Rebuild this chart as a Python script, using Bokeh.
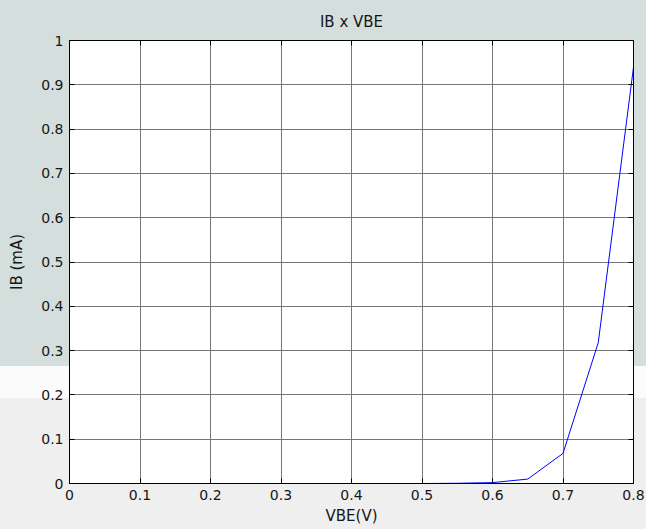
from bokeh.plotting import figure
from bokeh.models import FixedTicker, LinearAxis, Range1d, Title
from bokeh.embed import file_html
from bokeh.resources import INLINE

# data
vbe = [0.0, 0.05, 0.1, 0.15, 0.2, 0.25, 0.3, 0.35, 0.4, 0.45, 0.5, 0.55, 0.6, 0.65, 0.7, 0.75, 0.8]
ib = [0.0, 0.0, 0.0, 0.0, 0.0, 0.0, 0.0, 0.0, 0.0, 0.0, 0.0, 0.0005, 0.002, 0.01, 0.068, 0.318, 0.94]
x_ticks = [0, 0.1, 0.2, 0.3, 0.4, 0.5, 0.6, 0.7, 0.8]
x_labels = ["0", "0.1", "0.2", "0.3", "0.4", "0.5", "0.6", "0.7", "0.8"]
y_ticks = [0, 0.1, 0.2, 0.3, 0.4, 0.5, 0.6, 0.7, 0.8, 0.9, 1.0]
y_labels = ["0", "0.1", "0.2", "0.3", "0.4", "0.5", "0.6", "0.7", "0.8", "0.9", "1"]

FONT = "DejaVu Sans"
TXT = "#161616"

p = figure(width=646, height=529, output_backend="svg", toolbar_location=None,
           x_range=Range1d(0, 0.8), y_range=Range1d(0, 1),
           min_border_left=69, min_border_right=13, min_border_top=38, min_border_bottom=46)
p.border_fill_color = None
p.styles = {"background": "linear-gradient(to bottom, #d4dfdd 0px, #d4dfdd 366px, #fbfbfb 366px, #fbfbfb 398px, #efefef 398px, #efefef 100%)"}
p.background_fill_color = "white"
p.outline_line_color = "black"
p.outline_line_width = 1

p.title = Title(text="IB x VBE", align="center", text_font=FONT, text_font_size="15px",
                text_font_style="normal", text_color=TXT, offset=0, standoff=20)

p.line(vbe, ib, line_color="#0000ff", line_width=1)

def style_axis(ax, ticks, labels, show_labels=True):
    ax.ticker = FixedTicker(ticks=ticks)
    ax.major_label_overrides = {t: l for t, l in zip(ticks, labels)}
    ax.major_tick_in = 5
    ax.major_tick_out = 0
    ax.minor_tick_in = 0
    ax.minor_tick_out = 0
    ax.axis_line_color = "black"
    ax.major_tick_line_color = "black"
    ax.major_label_text_font = FONT
    ax.major_label_text_font_size = "14px"
    ax.major_label_text_color = TXT
    ax.axis_label_text_font = FONT
    ax.axis_label_text_font_size = "15px"
    ax.axis_label_text_font_style = "normal"
    ax.axis_label_text_color = TXT
    if not show_labels:
        ax.major_label_text_alpha = 0
        ax.major_label_text_font_size = "0px"

style_axis(p.xaxis[0], x_ticks, x_labels)
style_axis(p.yaxis[0], y_ticks, y_labels)
p.xaxis[0].axis_label = "VBE(V)"
p.xaxis[0].major_label_standoff = 6
p.xaxis[0].axis_label_standoff = 4
p.yaxis[0].axis_label = "IB (mA)"
p.yaxis[0].major_label_standoff = 6
p.yaxis[0].axis_label_standoff = 12

top_ax = LinearAxis()
right_ax = LinearAxis()
style_axis(top_ax, x_ticks, x_labels, show_labels=False)
style_axis(right_ax, y_ticks, y_labels, show_labels=False)
p.add_layout(top_ax, "above")
p.add_layout(right_ax, "right")

p.xgrid.ticker = FixedTicker(ticks=x_ticks)
p.ygrid.ticker = FixedTicker(ticks=y_ticks)
p.grid.grid_line_color = "#777777"
p.grid.grid_line_width = 1
p.grid.grid_line_alpha = 1

open("out.html", "w").write(file_html(p, INLINE))
